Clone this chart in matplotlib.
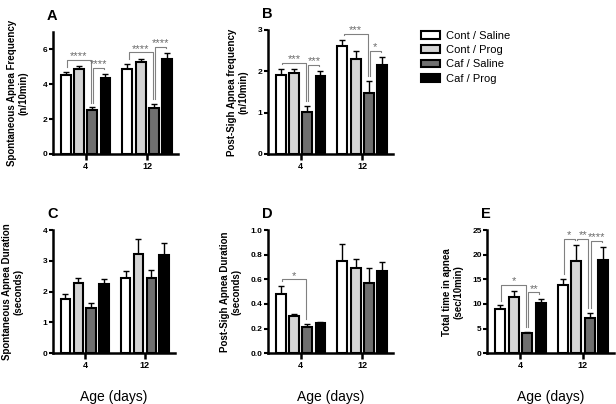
import matplotlib.pyplot as plt
import numpy as np

plt.rcParams['font.family'] = ['Liberation Sans', 'DejaVu Sans']

# Data
ages = ['4', '12']
groups = ['Cont / Saline', 'Cont / Prog', 'Caf / Saline', 'Caf / Prog']
colors = ['white', '#d4d4d4', '#6f6f6f', 'black']

# mean and SEM per group, [age 4, age 12]
spont_freq = [[4.55, 4.90], [4.85, 5.26], [2.52, 2.65], [4.33, 5.45]]
spont_freq_err = [[0.15, 0.25], [0.18, 0.21], [0.15, 0.20], [0.25, 0.36]]

sigh_freq = [[1.92, 2.61], [1.95, 2.29], [1.01, 1.48], [1.88, 2.14]]
sigh_freq_err = [[0.13, 0.14], [0.11, 0.20], [0.15, 0.28], [0.12, 0.20]]

spont_dur = [[1.76, 2.46], [2.27, 3.24], [1.48, 2.43], [2.24, 3.21]]
spont_dur_err = [[0.16, 0.22], [0.18, 0.49], [0.14, 0.29], [0.16, 0.39]]

sigh_dur = [[0.48, 0.75], [0.30, 0.69], [0.21, 0.57], [0.245, 0.665]]
sigh_dur_err = [[0.07, 0.14], [0.02, 0.08], [0.03, 0.12], [0.005, 0.08]]

total_time = [[8.9, 13.9], [11.5, 18.8], [4.0, 7.2], [10.1, 19.0]]
total_time_err = [[0.8, 1.2], [1.2, 3.2], [0.3, 0.9], [1.0, 2.6]]

# significance brackets: (age index, bar i, bar j, label)
sig_a = [(0, 0, 2, '****'), (0, 2, 3, '****'), (1, 0, 2, '****'), (1, 2, 3, '****')]
sig_b = [(0, 0, 2, '***'), (0, 2, 3, '***'), (1, 0, 2, '***'), (1, 2, 3, '*')]
sig_c = []
sig_d = [(0, 0, 2, '*')]
sig_e = [(0, 0, 2, '*'), (0, 2, 3, '**'), (1, 0, 1, '*'), (1, 1, 2, '**'), (1, 2, 3, '****')]

fig = plt.figure(figsize=(6.16, 4.04), dpi=100)

pitch = 0.215
width = 0.16
xg = np.arange(len(ages))


def panel(rect, means, errs, sigs, ymax, yticks, ylabel, letter, ylab_x, fmt='%g'):
    ax = fig.add_axes(rect)
    means = np.array(means)
    errs = np.array(errs)
    bars = []
    for g in range(len(groups)):
        xs = xg + (g - 1.5) * pitch
        b = ax.bar(xs, means[g], width=width, color=colors[g], edgecolor='black',
                   linewidth=1.5, label=groups[g], zorder=2)
        bars.append(b)
        ax.errorbar(xs, means[g], yerr=[np.zeros(len(xs)), errs[g]], fmt='none',
                    ecolor='black', elinewidth=1.0, capsize=2.2, capthick=1.0, zorder=1)
    tops = means + errs
    for age, i, j, lab in sigs:
        xi = xg[age] + (i - 1.5) * pitch + 0.12 * width
        xj = xg[age] + (j - 1.5) * pitch - 0.12 * width
        h = tops[i:j + 1, age].max() + 0.05 * ymax
        yi = tops[i, age] + 0.04 * ymax
        yj = tops[j, age] + 0.04 * ymax
        ax.plot([xi, xi, xj, xj], [yi, h, h, yj], color='#808080', lw=0.8,
                clip_on=False, zorder=3)
        ax.text((xi + xj) / 2, h - 0.01 * ymax, lab, ha='center', va='bottom',
                fontsize=8, color='#6a6a6a')
    ax.set_xlim(-0.53, 1.5)
    ax.set_ylim(0, ymax)
    ax.set_yticks(yticks)
    ax.set_yticklabels([fmt % t for t in yticks])
    ax.set_xticks(xg)
    ax.set_xticklabels(ages)
    for s in ['top', 'right']:
        ax.spines[s].set_visible(False)
    for s in ['left', 'bottom']:
        ax.spines[s].set_linewidth(1.8)
    ax.tick_params(axis='y', direction='out', length=3, width=1.5, labelsize=6, pad=1)
    ax.tick_params(axis='x', direction='out', length=4, width=1.8, labelsize=6.5, pad=2)
    for lbl in ax.get_xticklabels() + ax.get_yticklabels():
        lbl.set_fontweight('bold')
    # panel letter
    x0 = rect[0] - 6 / 616
    ax.text(x0, rect[1] + rect[3] + 16 / 404, letter, transform=fig.transFigure,
            fontsize=10.5, fontweight='bold', ha='left', va='center')
    fig.text(ylab_x, rect[1] + rect[3] / 2, ylabel, rotation=90, ha='center', va='center',
             fontsize=7, fontweight='bold', linespacing=1.15)
    return ax, bars


axA, barsA = panel([0.086, 0.619, 0.203, 0.302], spont_freq, spont_freq_err, sig_a, 7,
                   [0, 2, 4, 6], 'Spontaneous Apnea Frequency\n(n/10min)', 'A', 18 / 616)
axB, _ = panel([0.435, 0.619, 0.203, 0.307], sigh_freq, sigh_freq_err, sig_b, 3,
               [0, 1, 2, 3], 'Post-Sigh Apnea frequency\n(n/10min)', 'B', 238 / 616)
axC, _ = panel([0.086, 0.126, 0.198, 0.304], spont_dur, spont_dur_err, sig_c, 4,
               [0, 1, 2, 3, 4], 'Spontaneous Apnea Duration\n(seconds)', 'C', 13 / 616)
axD, _ = panel([0.435, 0.126, 0.203, 0.304], sigh_dur, sigh_dur_err, sig_d, 1.0,
               [0, 0.2, 0.4, 0.6, 0.8, 1.0], 'Post-Sigh Apnea Duration\n(seconds)', 'D',
               231 / 616, fmt='%.1f')
axE, _ = panel([0.791, 0.126, 0.206, 0.304], total_time, total_time_err, sig_e, 25,
               [0, 5, 10, 15, 20, 25], 'Total time in apnea\n(sec/10min)', 'E', 453 / 616)

for ax in [axC, axD, axE]:
    ax.set_xlabel('Age (days)', fontsize=10, labelpad=14)

fig.legend(handles=barsA, labels=groups, loc='upper left',
           bbox_to_anchor=(421 / 616, 1 - 31 / 404), frameon=False, fontsize=8,
           handlelength=1.7, handleheight=0.7, handletextpad=0.55, labelspacing=0.38,
           borderaxespad=0, borderpad=0)

plt.savefig('out.png', dpi=100)
